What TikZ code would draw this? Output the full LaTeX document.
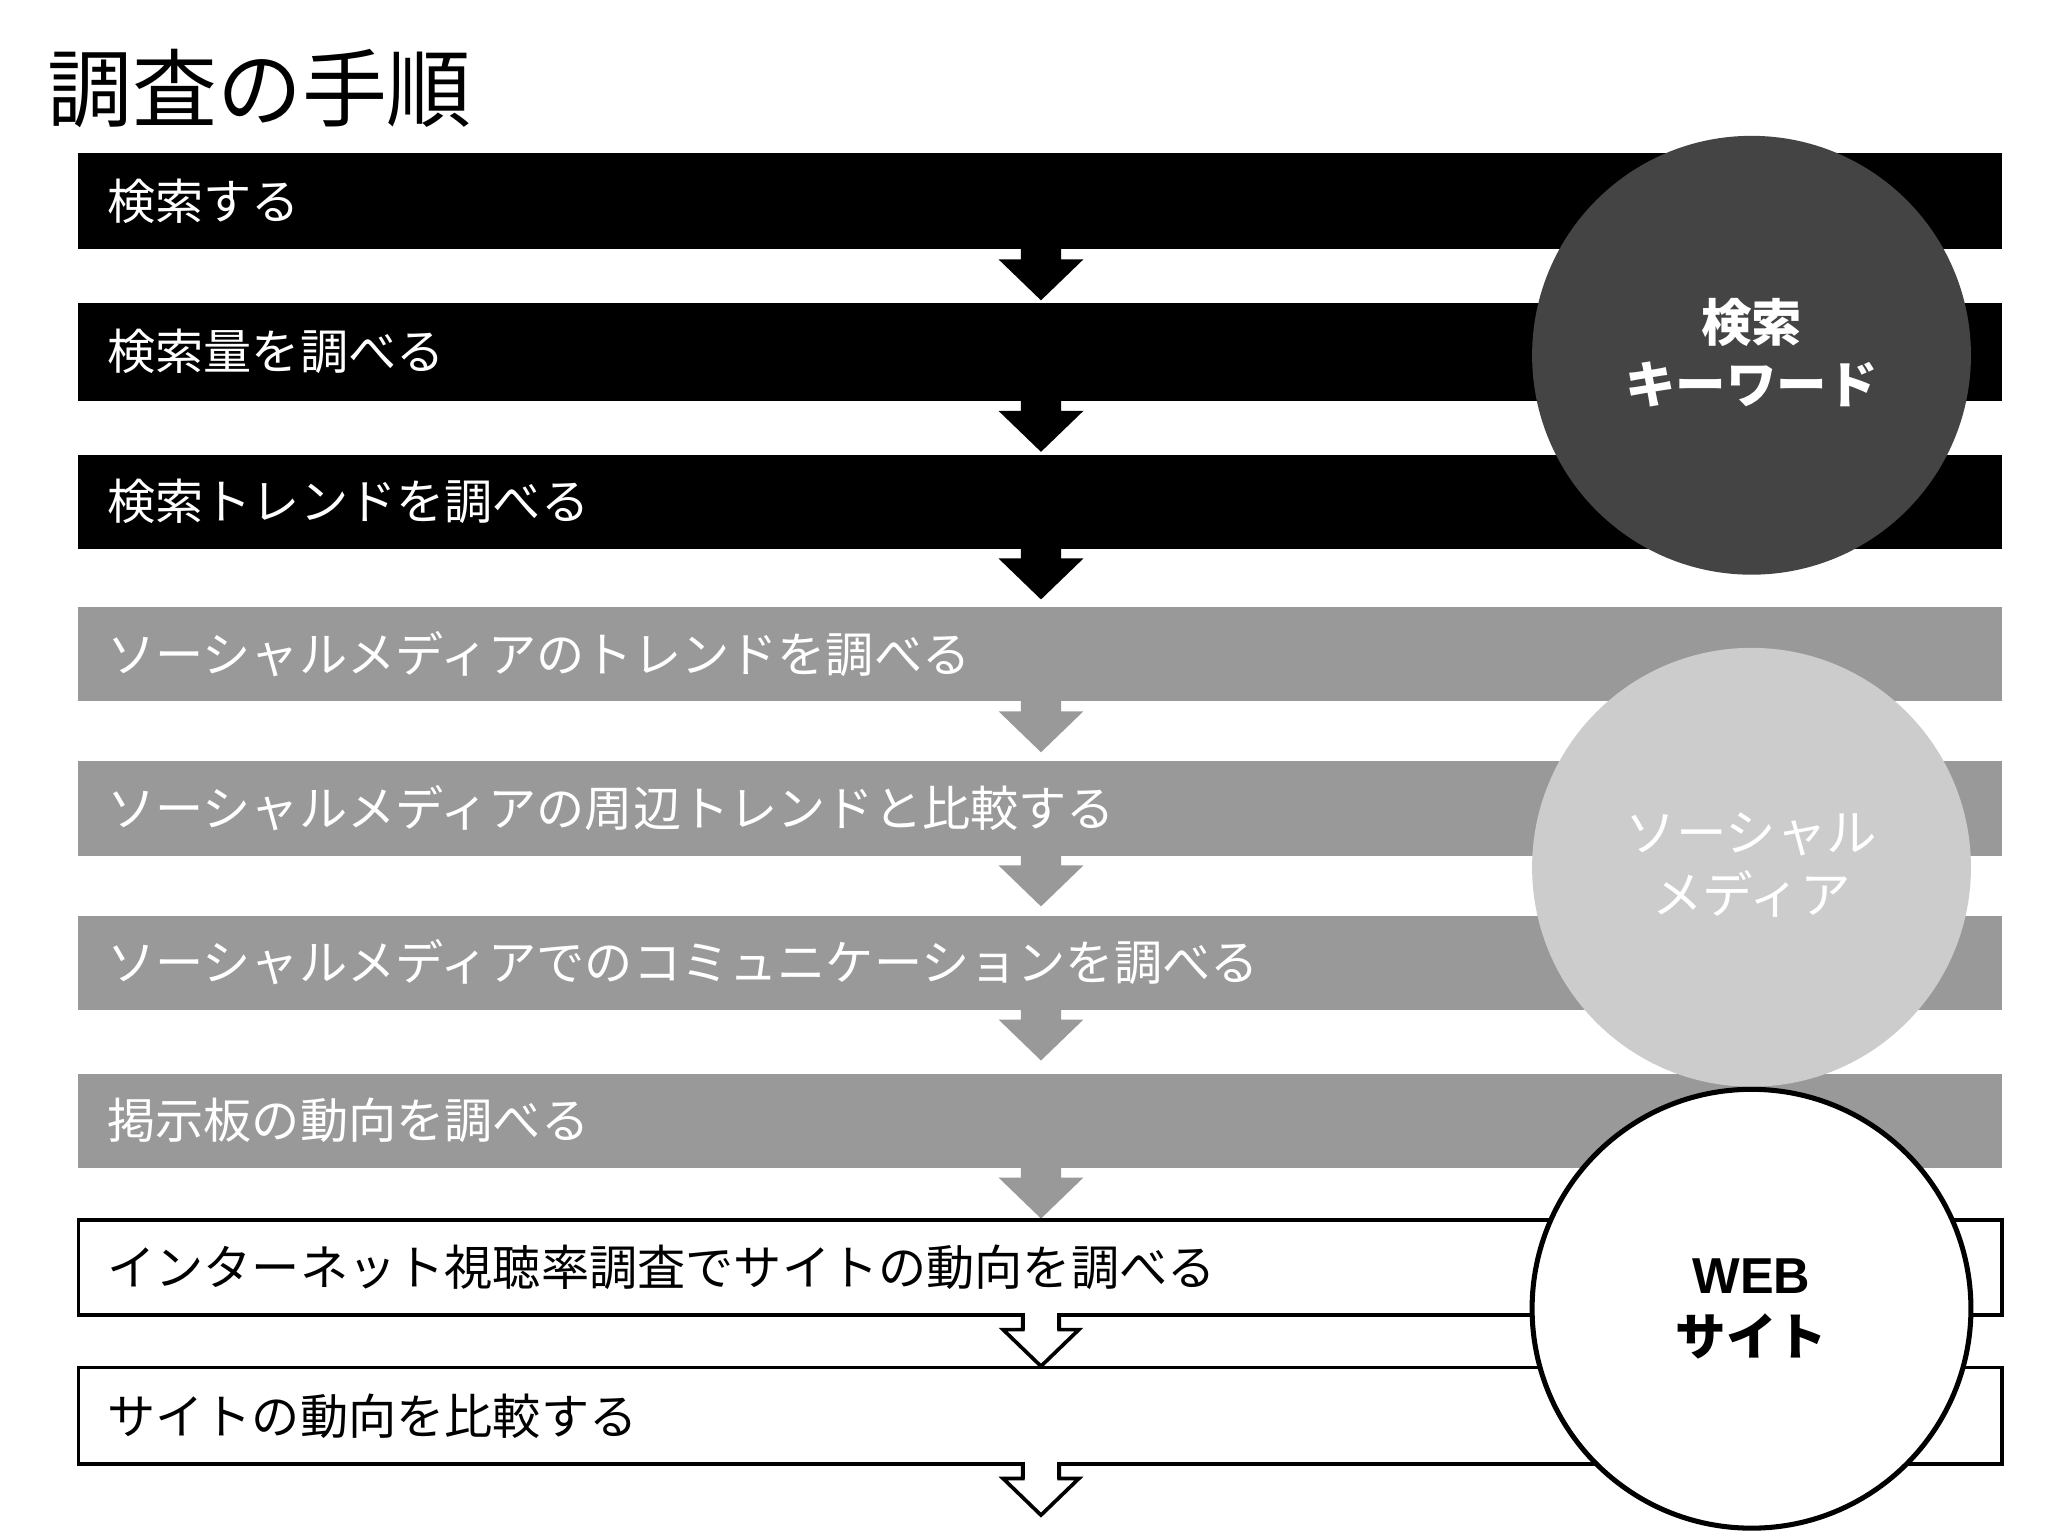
\documentclass[tikz,border=0pt]{standalone}
\usepackage{fontspec}
\setmainfont{Noto Sans CJK JP}
\newfontfamily\latinb{Liberation Sans}
\begin{document}
\begin{tikzpicture}[x=0.02cm,y=-0.02cm,
 barlbl/.style={anchor=west,font=\fontsize{21}{24}\selectfont},
 circlbl/.style={font=\fontsize{22}{27}\selectfont\bfseries,align=center}]
\useasboundingbox (0,0) rectangle (1568,1176);
\definecolor{dk}{HTML}{444444}\definecolor{gr}{HTML}{999999}\definecolor{lg}{HTML}{CCCCCC}
\node[anchor=west,font=\fontsize{37}{40}\selectfont] (title) at (30,68) {調査の手順};
% arrows: #1 y-top(bar bottom), #2 fill, #3 draw
\newcommand\flowarrow[3]{\draw[fill=#2,draw=#3,line width=1.6pt,line join=miter] (783,#1) -- (783,#1+11) -- (768,#1+11) -- (797,#1+39) -- (826,#1+11) -- (811,#1+11) -- (811,#1) -- cycle;}
\flowarrow{189}{black}{black}
\flowarrow{305}{black}{black}
\flowarrow{418}{black}{black}
\flowarrow{535}{gr}{gr}
\flowarrow{653}{gr}{gr}
\flowarrow{771}{gr}{gr}
\flowarrow{892}{gr}{gr}
\flowarrow{1007}{white}{black}
\flowarrow{1121}{white}{black}
\fill[black] (60,117) rectangle (1533,191); \node[barlbl,white] (b1) at (76,154) {検索する};
\fill[black] (60,232) rectangle (1533,307); \node[barlbl,white] (b2) at (76,269) {検索量を調べる};
\fill[black] (60,348) rectangle (1533,420); \node[barlbl,white] (b3) at (76,384) {検索トレンドを調べる};
\fill[gr] (60,465) rectangle (1533,537); \node[barlbl,white] (b4) at (76,501) {ソーシャルメディアのトレンドを調べる};
\fill[gr] (60,583) rectangle (1533,655); \node[barlbl,white] (b5) at (76,619) {ソーシャルメディアの周辺トレンドと比較する};
\fill[gr] (60,701) rectangle (1533,773); \node[barlbl,white] (b6) at (76,737) {ソーシャルメディアでのコミュニケーションを調べる};
\fill[gr] (60,822) rectangle (1533,894); \node[barlbl,white] (b7) at (76,858) {掲示板の動向を調べる};
\draw[line width=1.6pt,fill=white] (60,934) rectangle (1533,1007); \node[barlbl,black] (b8) at (76,970) {インターネット視聴率調査でサイトの動向を調べる};
\draw[line width=1.6pt,fill=white] (60,1047) rectangle (1533,1121); \node[barlbl,black] (b9) at (76,1084) {サイトの動向を比較する};
% re-draw arrow heads over white bars' top border
\draw[white,fill=white] (784,1005) rectangle (810,1009);
\draw[line width=1.6pt] (783,1005) -- (783,1018); \draw[line width=1.6pt] (811,1005) -- (811,1018);
\draw[white,fill=white] (784,1119) rectangle (810,1123);
\draw[line width=1.6pt] (783,1119) -- (783,1132); \draw[line width=1.6pt] (811,1119) -- (811,1132);
\fill[dk] (1341,272) circle (168); \node[circlbl,white] (c1) at (1341,270) {検索\\キーワード};
\fill[lg] (1341,664) circle (168); \node[circlbl,white,font=\fontsize{22}{27}\selectfont] (c2) at (1341,662) {ソーシャル\\メディア};
\draw[fill=white,line width=2.2pt] (1341,1002) circle (168); \node[circlbl,black] (c3) at (1341,1002) {{\latinb\bfseries WEB}\\サイト};
\end{tikzpicture}
\end{document}
